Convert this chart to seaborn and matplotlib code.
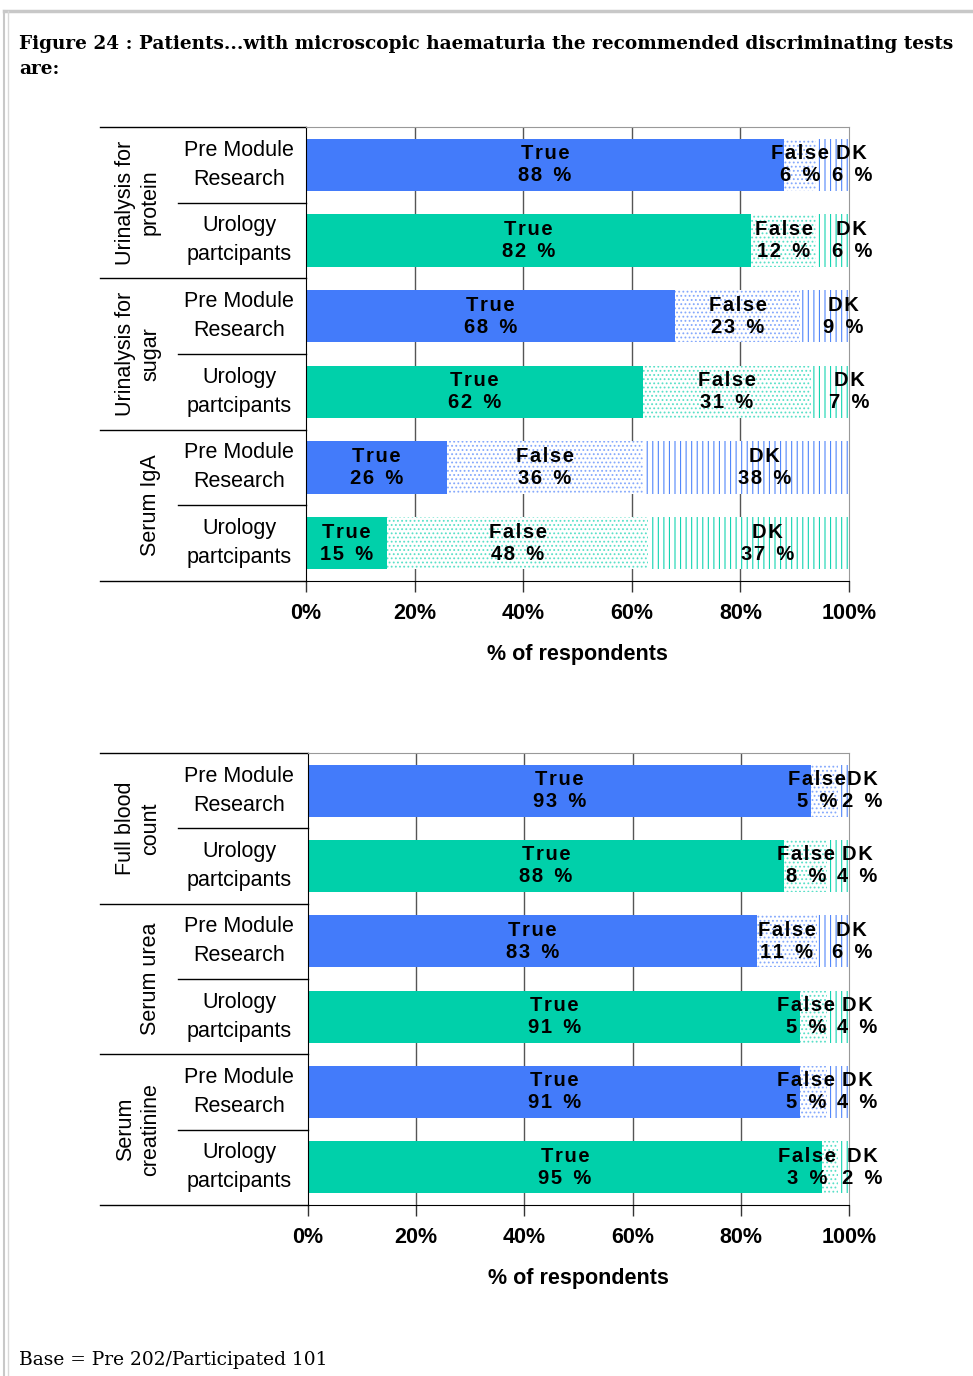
import numpy as np
import pandas as pd
import seaborn as sns
import matplotlib.pyplot as plt
from matplotlib.lines import Line2D
from matplotlib.colors import to_rgb
from matplotlib.transforms import blended_transform_factory

# --- data ---
groups = ["Pre Module\nResearch", "Urology\npartcipants"]

tests_top = ["Urinalysis for\nprotein", "Urinalysis for\nsugar", "Serum IgA"]
true_top = [88, 82, 68, 62, 26, 15]
false_top = [6, 12, 23, 31, 36, 48]
dk_top = [6, 6, 9, 7, 38, 37]

tests_bottom = ["Full blood\ncount", "Serum urea", "Serum\ncreatinine"]
true_bottom = [93, 88, 83, 91, 91, 95]
false_bottom = [5, 8, 11, 5, 5, 3]
dk_bottom = [2, 4, 6, 4, 4, 2]

ticks = [0, 20, 40, 60, 80, 100]
tick_labels = ["0%", "20%", "40%", "60%", "80%", "100%"]

colors = {groups[0]: "#437bfa", groups[1]: "#00d0aa"}

plt.rcParams['font.family'] = ['Liberation Sans', 'DejaVu Sans']
plt.rcParams['hatch.linewidth'] = 0.8

W, H = 973, 1376


def spaced(s):
    return "\u200a".join(s)


def lighten(c, amt):
    r = np.array(to_rgb(c))
    return tuple(r + (1 - r) * amt)


def panel(ax, tests, tru, fal, dk):
    df = pd.DataFrame({
        "row": [f"{t}|{g}" for t in tests for g in groups],
        "group": [g for t in tests for g in groups],
        "true": tru, "false": fal, "dk": dk})
    df["cum_false"] = df["true"] + df["false"]
    df["total"] = df["cum_false"] + df["dk"]

    # stacked bars: draw totals first, then overlay shorter ones
    layers = [("total", "|||", 0.08), ("cum_false", "....", 0.35), ("true", None, None)]
    for col, hatch, amt in layers:
        n0 = len(ax.patches)
        sns.barplot(data=df, x=col, y="row", hue="group", palette=colors, dodge=False,
                    width=0.69, saturation=1, legend=False, errorbar=None, ax=ax, orient="h")
        if hatch:
            for p in ax.patches[n0:]:
                c = p.get_facecolor()
                p.set_facecolor("white")
                p.set_edgecolor(lighten(c, amt))
                p.set_hatch(hatch)
                p.set_linewidth(0)

    for i, r in df.iterrows():
        starts = [0, r["true"], r["cum_false"]]
        # narrow "False" labels get nudged left, "DK" labels sit a bit right
        shifts = [0, -max(0, 6 - r["false"]) * 1.4, 3.5]
        for name, start, v, sh in zip(["True", "False", "DK"], starts,
                                      [r["true"], r["false"], r["dk"]], shifts):
            ax.text(start + v / 2 + sh, i, spaced(name) + "\n" + spaced(f"{v}") + "  %",
                    ha="center", va="center", fontsize=14.5, fontweight="bold",
                    linespacing=1.2, zorder=5)

    ax.set_xticks(ticks)
    ax.set_xticklabels(tick_labels, fontweight="bold", fontsize=15.5)
    ax.set_yticks([])
    ax.set_ylabel("")
    ax.set_xlabel("% of respondents", fontweight="bold", fontsize=15.5, labelpad=14)
    ax.tick_params(axis="x", length=8, width=1, pad=8, direction="out", color="#333333")
    for t in ticks[1:-1]:
        ax.axvline(t, color="#555555", lw=1, zorder=0.5)
    for s in ["top", "right"]:
        ax.spines[s].set_color("#999999")
    for s in ["left", "bottom"]:
        ax.spines[s].set_color("black")

    # category table on the left
    tr = blended_transform_factory(ax.figure.transFigure, ax.transData)
    x0 = ax.get_position().x0
    kw = dict(transform=tr, clip_on=False, color="black", lw=1)
    for yy in [-0.5, 1.5, 3.5, 5.5]:
        ax.plot([100 / W, x0], [yy, yy], **kw)
    for yy in [0.5, 2.5, 4.5]:
        ax.plot([178 / W, x0], [yy, yy], **kw)
    for k, t in enumerate(tests):
        ax.text(161 / W, 2 * k + 0.5, t, transform=tr, rotation=90, ha="right", va="center",
                multialignment="center", fontsize=15.5, linespacing=1.25)
    for i, g in enumerate(df["group"]):
        ax.text(239 / W, i, g, transform=tr, ha="center", va="center", fontsize=15.5,
                linespacing=1.5)

    ax.set_xlim(0, 100)
    ax.set_ylim(len(df) - 0.5, -0.5)


fig = plt.figure(figsize=(W / 100, H / 100), dpi=100)
ax1 = fig.add_axes([306 / W, 1 - 581 / H, 543 / W, 454 / H])
ax2 = fig.add_axes([308 / W, 1 - 1205 / H, 541 / W, 452 / H])

panel(ax1, tests_top, true_top, false_top, dk_top)
panel(ax2, tests_bottom, true_bottom, false_bottom, dk_bottom)

title_kw = dict(ha="left", va="baseline", fontsize=13.3, fontweight="bold", family="DejaVu Serif")
fig.text(19 / W, 1 - 49 / H,
         "Figure 24 : Patients...with microscopic haematuria the recommended discriminating tests",
         **title_kw)
fig.text(19 / W, 1 - 74 / H, "are:", **title_kw)
fig.text(19 / W, 1 - 1365 / H, "Base = Pre 202/Participated 101", ha="left", va="baseline",
         fontsize=13.4, family="DejaVu Serif")

# page border
fig.add_artist(Line2D([4 / W, 1], [1 - 11 / H] * 2, transform=fig.transFigure,
                      color="#c8c8c8", lw=2.5))
fig.add_artist(Line2D([4 / W] * 2, [1 - 11 / H, 0], transform=fig.transFigure,
                      color="#c8c8c8", lw=1.5))
fig.add_artist(Line2D([8 / W] * 2, [1 - 11 / H, 0], transform=fig.transFigure,
                      color="#d8d8d8", lw=1))

fig.savefig("out.png", dpi=100)
